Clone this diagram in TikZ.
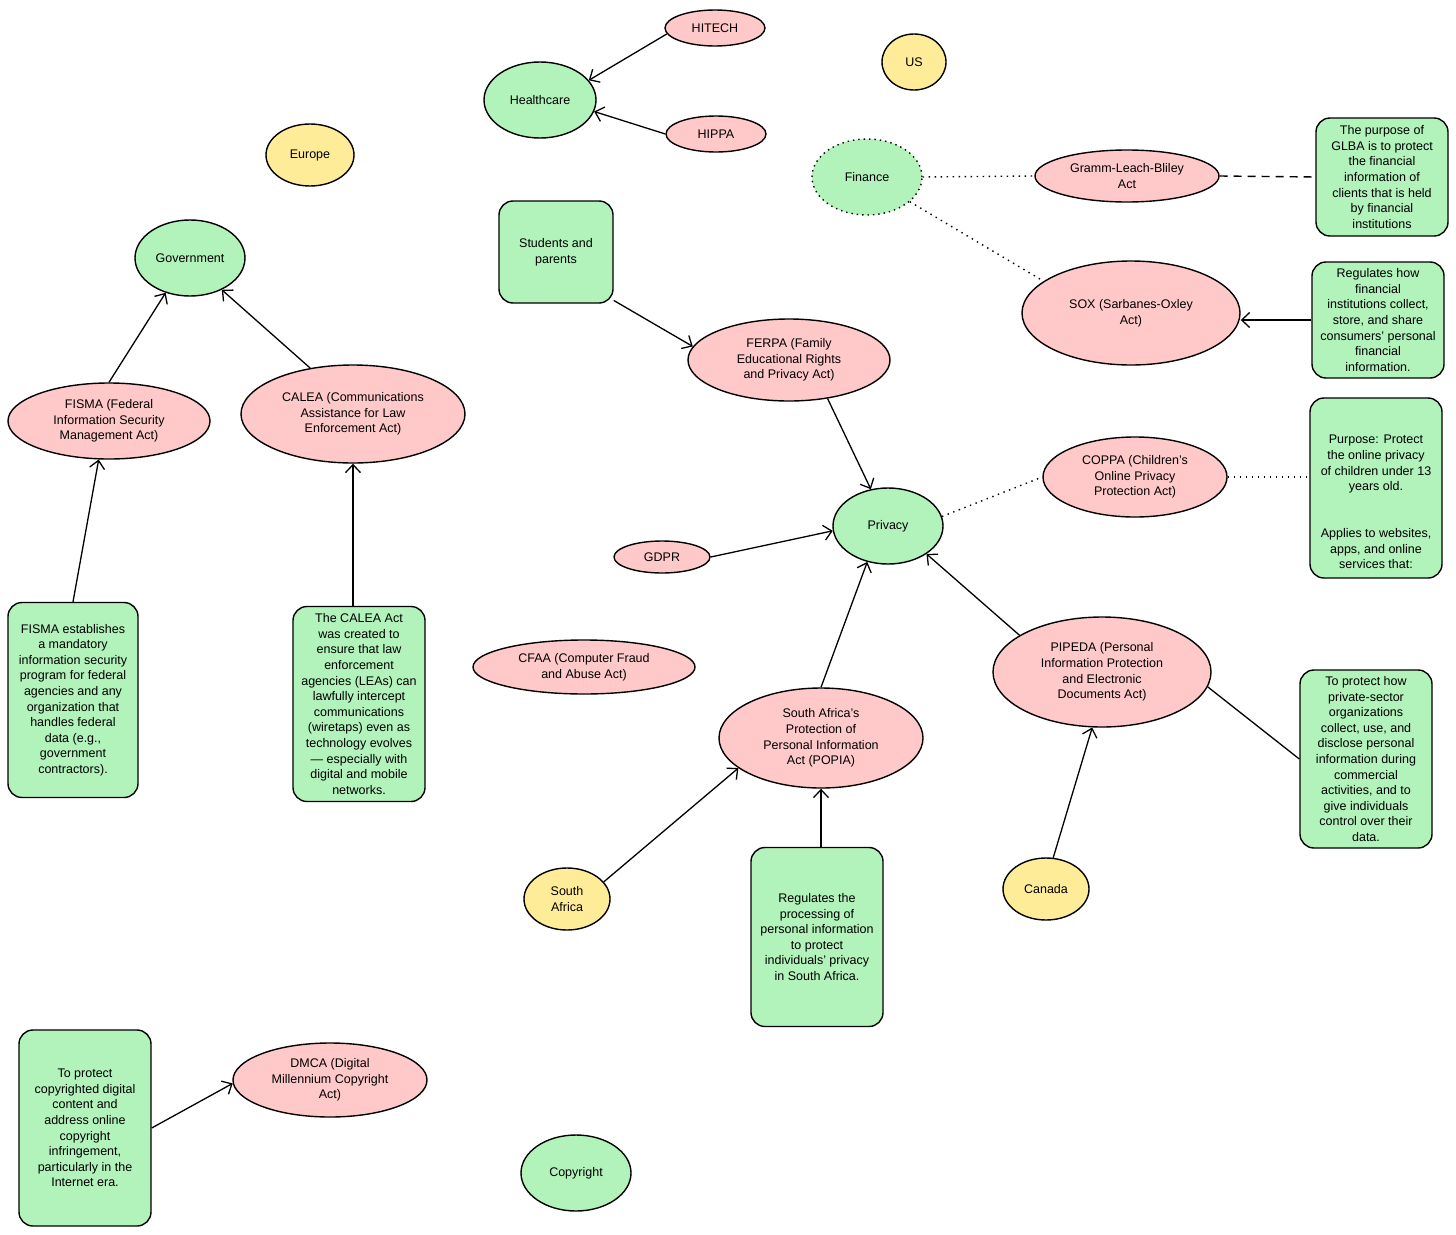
\documentclass[tikz,border=0pt]{standalone}
\usepackage{fontspec}
\setmainfont{Liberation Sans}
\usetikzlibrary{shapes.geometric,arrows.meta}
\definecolor{pgreen}{HTML}{B2F2BB}
\definecolor{ppink}{HTML}{FFC9C9}
\definecolor{pyellow}{HTML}{FFEC99}
\begin{document}
\begin{tikzpicture}[x=1pt,y=-1pt,
  every node/.style={font=\fontsize{12.5}{15.6}\selectfont, align=center, inner sep=0pt},
  base/.style={draw=black, line width=1.4pt},
  ell/.style={base, ellipse, fill=ppink},
  gell/.style={base, ellipse, fill=pgreen},
  yell/.style={base, ellipse, fill=pyellow},
  note/.style={base, rectangle, rounded corners=14pt, fill=pgreen, minimum width=132pt},
  arr/.style={line width=1.3pt, -{Straight Barb[length=8pt,width=15pt]}},
  link/.style={line width=1.3pt},
  dots/.style={line width=1.4pt, dash pattern=on 1.4pt off 4.6pt},
  dash8/.style={line width=1.4pt, dash pattern=on 8pt off 6pt},
]
\useasboundingbox[fill=white] (0,0) rectangle (1456,1234);

% healthcare cluster
\node[ell, minimum width=100pt, minimum height=36pt] (hitech) at (715,28) {HITECH};
\node[gell, minimum width=112pt, minimum height=76pt] (health) at (540,100) {Healthcare};
\node[ell, minimum width=100pt, minimum height=36pt] (hippa) at (716,134) {HIPPA};
\node[yell, minimum width=64pt, minimum height=56pt] (us) at (914,62) {US};
\node[yell, minimum width=88pt, minimum height=62pt] (europe) at (310,155) {Europe};

% government
\node[gell, minimum width=110pt, minimum height=76pt] (gov) at (190,258) {Government};
\node[ell, minimum width=202pt, minimum height=76pt] (fisma) at (109,421) {FISMA (Federal\\Information Security\\Management Act)};
\node[ell, minimum width=224pt, minimum height=98pt] (calea) at (353,414) {CALEA (Communications\\Assistance for Law\\Enforcement Act)};
\node[note, minimum width=130pt, minimum height=195pt] (fismanote) at (73,700) {FISMA establishes\\a mandatory\\information security\\program for federal\\agencies and any\\organization that\\handles federal\\data (e.g.,\\government\\contractors).};
\node[note, minimum height=195pt] (caleanote) at (359,704) {The CALEA Act\\was created to\\ensure that law\\enforcement\\agencies (LEAs) can\\lawfully intercept\\communications\\(wiretaps) even as\\technology evolves\\— especially with\\digital and mobile\\networks.};

% students / ferpa
\node[note, minimum width=114pt, minimum height=102pt] (students) at (556,252) {Students and\\parents};
\node[ell, minimum width=202pt, minimum height=82pt] (ferpa) at (789,360) {FERPA (Family\\Educational Rights\\and Privacy Act)};

% finance
\node[ellipse, fill=pgreen, draw=black, line width=1.4pt, dash pattern=on 1.4pt off 4pt, minimum width=110pt, minimum height=76pt] (finance) at (867,177) {Finance};
\node[ell, minimum width=184pt, minimum height=52pt] (gramm) at (1127,176) {Gramm-Leach-Bliley\\Act};
\node[note, minimum height=118pt] (glba) at (1382,177) {The purpose of\\GLBA is to protect\\the financial\\information of\\clients that is held\\by financial\\institutions};
\node[ell, minimum width=218pt, minimum height=104pt] (sox) at (1131,313) {SOX (Sarbanes-Oxley\\Act)};
\node[note, minimum height=116pt] (soxnote) at (1378,320) {Regulates how\\financial\\institutions collect,\\store, and share\\consumers’ personal\\financial\\information.};

% privacy
\node[gell, minimum width=110pt, minimum height=76pt] (privacy) at (888,526) {Privacy};
\node[ell, minimum width=184pt, minimum height=80pt] (coppa) at (1135,477) {COPPA (Children’s\\Online Privacy\\Protection Act)};
\node[note, minimum height=180pt] (coppanote) at (1376,488) {};
\node (coppatext) at (1376,502) {Purpose: Protect\\the online privacy\\of children under 13\\years old.\\[31.2pt]Applies to websites,\\apps, and online\\services that:};
\node[ell, minimum width=96pt, minimum height=32pt] (gdpr) at (662,557) {GDPR};
\node[ell, minimum width=222pt, minimum height=54pt] (cfaa) at (584,667) {CFAA (Computer Fraud\\and Abuse Act)};
\node[ell, minimum width=204pt, minimum height=100pt] (popia) at (821,738) {South Africa’s\\Protection of\\Personal Information\\Act (POPIA)};
\node[ell, minimum width=218pt, minimum height=110pt] (pipeda) at (1102,672) {PIPEDA (Personal\\Information Protection\\and Electronic\\Documents Act)};
\node[note, minimum height=178pt] (pipedanote) at (1366,759) {To protect how\\private-sector\\organizations\\collect, use, and\\disclose personal\\information during\\commercial\\activities, and to\\give individuals\\control over their\\data.};
\node[yell, minimum width=86pt, minimum height=62pt] (safrica) at (567,899) {South\\Africa};
\node[note, minimum height=179pt] (popianote) at (817,937) {Regulates the\\processing of\\personal information\\to protect\\individuals’ privacy\\in South Africa.};
\node[yell, minimum width=86pt, minimum height=62pt] (canada) at (1046,889) {Canada};

% copyright
\node[note, minimum height=196pt] (dmcanote) at (85,1128) {To protect\\copyrighted digital\\content and\\address online\\copyright\\infringement,\\particularly in the\\Internet era.};
\node[ell, minimum width=194pt, minimum height=74pt] (dmca) at (330,1080) {DMCA (Digital\\Millennium Copyright\\Act)};
\node[gell, minimum width=110pt, minimum height=76pt] (copyright) at (576,1173) {Copyright};

% connectors
\draw[arr] (hitech.187) -- (health.22);
\draw[arr] (hippa.west) -- (health.-12);
\draw[arr] (fisma.north) -- (gov.-125);
\draw[arr] (calea.133) -- (gov.-45);
\draw[arr] (fismanote.north) -- (fisma.-105);
\draw[arr] (caleanote.north -| calea.south) -- (calea.south);
\draw[arr] (students.-40) -- (ferpa.172);
\draw[arr] (ferpa.-45) -- (privacy.115);
\draw[arr] (gdpr.east) -- (privacy.185);
\draw[dots] (privacy.10) -- (coppa.west);
\draw[dots] (coppa.east) -- (coppanote.west |- coppa.east);
\draw[dots] (finance.east) -- (gramm.west);
\draw[dots] (finance.-30) -- (sox.160);
\draw[dash8] (gramm.east) -- (glba.west);
\draw[arr] (soxnote.west) -- (sox.east |- soxnote.west);
\draw[arr] (popia.north) -- (privacy.-120);
\draw[arr] (pipeda.156) -- (privacy.-36);
\draw[link] (pipeda.-8) -- (pipedanote.west);
\draw[arr] (safrica.25) -- (popia.-160);
\draw[arr] (popianote.north -| popia.south) -- (popia.south);
\draw[arr] (canada.77) -- (pipeda.-100);
\draw[arr] (dmcanote.east) -- (dmca.182);
\end{tikzpicture}
\end{document}
